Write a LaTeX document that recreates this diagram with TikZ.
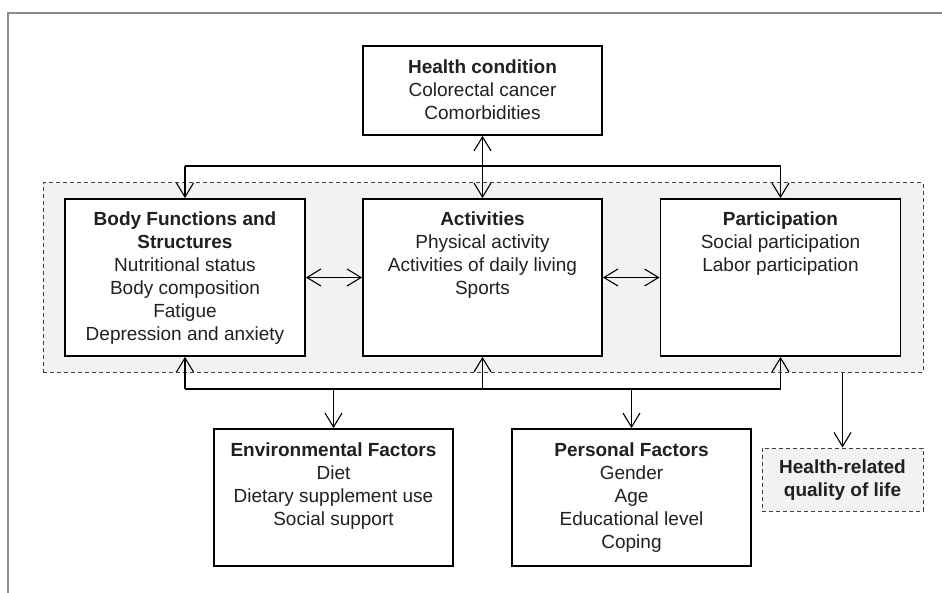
\documentclass[tikz,border=0pt]{standalone}
\usepackage{fontspec}
\setmainfont{Liberation Sans}
\usetikzlibrary{arrows.meta}
\definecolor{txt}{HTML}{231F20}
\definecolor{panelfill}{HTML}{F1F2F3}
\definecolor{framecol}{HTML}{8C8C8C}
\newcommand{\boxcontent}[4]{\parbox[c][#2pt][t]{#1pt}{\vspace*{#3pt}\centering #4\par}}
\tikzset{
  box/.style={draw=black, line width=1.8pt, fill=white, inner sep=0pt},
  dbox/.style={draw=black!75, dash pattern=on 4pt off 3pt, line width=1pt, fill=panelfill, inner sep=0pt},
  conn/.style={line width=1.1pt, draw=black},
  barb/.tip={Straight Barb[length=14pt,width=17pt,line width=1.1pt]},
  arr/.style={conn, -barb},
  darr/.style={conn, barb-barb}
}
\begin{document}
\begin{tikzpicture}[x=1pt,y=-1pt,font=\fontsize{19}{23}\selectfont,text=txt]
\useasboundingbox (0,0) rectangle (942,593);
% outer frame (top and left edges)
\draw[framecol, line width=2.5pt] (8,593) -- (8,13) -- (942,13);
% shaded dashed panel
\node[dbox, minimum width=880pt, minimum height=189pt] (panel) at (483,277.5) {};
% boxes
\node[box] (hc) at (482.5,90.5) {\boxcontent{239}{89}{14}{\textbf{Health condition}\\Colorectal cancer\\Comorbidities}};
\node[box] (bf) at (185,277.5) {\boxcontent{240}{157}{13}{\textbf{Body Functions and}\\\textbf{Structures}\\Nutritional status\\Body composition\\Fatigue\\Depression and anxiety}};
\node[box] (act) at (482.5,277.5) {\boxcontent{239}{157}{13}{\textbf{Activities}\\Physical activity\\Activities of daily living\\Sports}};
\node[box] (part) at (780.5,277.5) {\boxcontent{240}{157}{13}{\textbf{Participation}\\Social participation\\Labor participation}};
\node[box] (env) at (333.5,497.5) {\boxcontent{239}{137}{14}{\textbf{Environmental Factors}\\Diet\\Dietary supplement use\\Social support}};
\node[box] (pers) at (631.5,497.5) {\boxcontent{239}{137}{14}{\textbf{Personal Factors}\\Gender\\Age\\Educational level\\Coping}};
\node[dbox] (hrq) at (842.5,479.5) {\boxcontent{161}{63}{12}{\textbf{Health-related}\\\textbf{quality of life}}};
% bus coordinates
\coordinate (topbus) at (0,166);
\coordinate (botbus) at (0,389);
% top connectors
\draw[conn] (bf.north |- topbus) -- (part.north |- topbus);
\draw[arr] (bf.north |- topbus) -- (bf.north);
\draw[arr] (part.north |- topbus) -- (part.north);
\draw[darr] (hc.south) -- (act.north);
% horizontal links
\draw[darr] (bf.east) -- (act.west);
\draw[darr] (act.east) -- (part.west);
% bottom connectors
\draw[conn] (bf.south |- botbus) -- (part.south |- botbus);
\draw[arr] (bf.south |- botbus) -- (bf.south);
\draw[arr] (act.south |- botbus) -- (act.south);
\draw[arr] (part.south |- botbus) -- (part.south);
\draw[arr] (env.north |- botbus) -- (env.north);
\draw[arr] (pers.north |- botbus) -- (pers.north);
\draw[arr] (panel.south -| hrq.north) -- (hrq.north);
\end{tikzpicture}
\end{document}
